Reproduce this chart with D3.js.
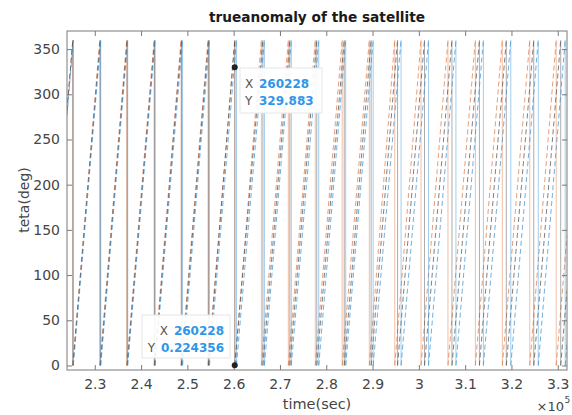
<!DOCTYPE html>
<html>
<head>
<meta charset="utf-8">
<script src="https://cdn.jsdelivr.net/npm/d3@7"></script>
<style>
  html, body { margin: 0; padding: 0; background: #fff; }
  svg { display: block; font-family: "DejaVu Sans", sans-serif; }
</style>
</head>
<body>
<svg id="chart" width="572" height="415"></svg>
<script>
// ---- data ----
const xTicks = [230000, 240000, 250000, 260000, 270000, 280000, 290000, 300000, 310000, 320000, 330000];
const xTickLabels = ["2.3", "2.4", "2.5", "2.6", "2.7", "2.8", "2.9", "3", "3.1", "3.2", "3.3"];
const yTicks = [0, 50, 100, 150, 200, 250, 300, 350];
const xDomain = [224000, 332000];
const yDomain = [-5, 370];

// times (s) at which each series wraps from 360 to 0 deg
const orangeDrops = [225260, 231080, 236900, 242820, 248640, 254460, 260280, 265990, 271810, 277630, 283440, 289300, 294800, 300470, 306290, 312210, 318030, 323960, 329670];
const grayDrops   = [225260, 231190, 237000, 242930, 248750, 254570, 260228, 266310, 272130, 277950, 283880, 289690, 295400, 301220, 307150, 313080, 318890, 324820, 330640];
const blueDrops   = [225370, 231290, 237110, 243040, 248960, 254780, 260600, 266640, 272450, 278380, 284200, 290130, 296160, 302090, 308010, 313940, 319860, 325790, 331610];
const startAngles = [282, 282, 277];   // deg at the left edge
const endAngles   = [144, 83, 24];     // deg at the right edge
const seriesNames = ["orange", "gray", "blue"];
const seriesColors = ["#e2703a", "#4a4a4a", "#2f8fd6"];

const tipX = [260228, 260228];
const tipY = [329.883, 0.224356];

// ---- layout ----
const svg = d3.select("#chart");
const L = 67, R = 567, T = 31, B = 370;
const x = d3.scaleLinear().domain(xDomain).range([L, R]);
const y = d3.scaleLinear().domain(yDomain).range([B, T]);

svg.append("defs").append("clipPath").attr("id", "clip")
  .append("rect").attr("x", L).attr("y", T).attr("width", R - L).attr("height", B - T);

const plot = svg.append("g").attr("clip-path", "url(#clip)");

const allDrops = [orangeDrops, grayDrops, blueDrops];
allDrops.forEach((drops, i) => {
  const ramps = [];
  ramps.push([[xDomain[0], startAngles[i]], [drops[0], 360]]);
  for (let k = 0; k < drops.length - 1; k++) ramps.push([[drops[k], 0], [drops[k + 1], 360]]);
  ramps.push([[drops[drops.length - 1], 0], [xDomain[1], endAngles[i]]]);
  const line = d3.line().x(d => x(d[0])).y(d => y(d[1]));
  const g = plot.append("g").attr("class", seriesNames[i]);
  g.selectAll("path.ramp").data(ramps).join("path")
    .attr("class", "ramp")
    .attr("d", line)
    .attr("fill", "none")
    .attr("stroke", seriesColors[i])
    .attr("stroke-width", 1)
    .attr("stroke-opacity", 0.7)
    .attr("stroke-dasharray", "5,3");
  g.selectAll("line.drop").data(drops).join("line")
    .attr("class", "drop")
    .attr("x1", d => x(d)).attr("x2", d => x(d))
    .attr("y1", y(360)).attr("y2", y(0))
    .attr("stroke", seriesColors[i])
    .attr("stroke-width", 1)
    .attr("stroke-opacity", 0.45);
});

// ---- axes box & ticks (MATLAB style, ticks inside) ----
const axisColor = "#7a7a7a";
const labelColor = "#454545";
svg.append("rect").attr("x", L).attr("y", T).attr("width", R - L).attr("height", B - T)
  .attr("fill", "none").attr("stroke", axisColor).attr("stroke-width", 1);

const xAxisB = d3.axisBottom(x).tickValues(xTicks).tickFormat((d, i) => xTickLabels[i]).tickSizeInner(-5).tickSizeOuter(0).tickPadding(9);
const gxb = svg.append("g").attr("transform", `translate(0,${B})`).call(xAxisB);
const xAxisT = d3.axisTop(x).tickValues(xTicks).tickFormat("").tickSizeInner(-5).tickSizeOuter(0);
const gxt = svg.append("g").attr("transform", `translate(0,${T})`).call(xAxisT);
const yAxisL = d3.axisLeft(y).tickValues(yTicks).tickSizeInner(-5).tickSizeOuter(0).tickPadding(7);
const gyl = svg.append("g").attr("transform", `translate(${L},0)`).call(yAxisL);
const yAxisR = d3.axisRight(y).tickValues(yTicks).tickFormat("").tickSizeInner(-5).tickSizeOuter(0);
const gyr = svg.append("g").attr("transform", `translate(${R},0)`).call(yAxisR);
[gxb, gxt, gyl, gyr].forEach(g => {
  g.select(".domain").remove();
  g.selectAll(".tick line").attr("stroke", axisColor);
  g.selectAll(".tick text").attr("fill", labelColor).attr("font-size", 14).attr("font-family", "DejaVu Sans, sans-serif");
});

// ---- titles ----
svg.append("text").attr("x", (L + R) / 2).attr("y", 22).attr("text-anchor", "middle")
  .attr("font-size", 13.7).attr("font-weight", "bold").attr("fill", "#1a1a1a")
  .text("trueanomaly of the satellite");
svg.append("text").attr("x", (L + R) / 2).attr("y", 409).attr("text-anchor", "middle")
  .attr("font-size", 14.5).attr("fill", labelColor).text("time(sec)");
svg.append("text").attr("transform", `translate(29,200) rotate(-90)`).attr("text-anchor", "middle")
  .attr("font-size", 14).attr("fill", labelColor).text("teta(deg)");
svg.append("text").attr("x", 564).attr("y", 411).attr("text-anchor", "end")
  .attr("font-size", 13).attr("fill", labelColor).text("×10");
svg.append("text").attr("x", 564.5).attr("y", 403).attr("font-size", 9).attr("fill", labelColor).text("5");

// ---- data tips ----
const tipBlue = "#2f96e8";
const tipGray = "#555";
// tip 1 (upper)
svg.append("rect").attr("x", 240).attr("y", 68).attr("width", 82).attr("height", 45)
  .attr("fill", "#fff").attr("fill-opacity", 0.92).attr("stroke", "#e6e6e6");
const t1 = svg.append("g").attr("font-size", 12);
t1.append("text").attr("x", 245).attr("y", 88).attr("fill", tipGray).text("X");
t1.append("text").attr("x", 259).attr("y", 88).attr("fill", tipBlue).attr("font-weight", "bold").text(String(tipX[0]));
t1.append("text").attr("x", 245).attr("y", 105).attr("fill", tipGray).text("Y");
t1.append("text").attr("x", 259).attr("y", 105).attr("fill", tipBlue).attr("font-weight", "bold").text(String(tipY[0]));
// tip 2 (lower)
svg.append("rect").attr("x", 142).attr("y", 315).attr("width", 88).attr("height", 43)
  .attr("fill", "#fff").attr("fill-opacity", 0.92).attr("stroke", "#e6e6e6");
const t2 = svg.append("g").attr("font-size", 12);
t2.append("text").attr("x", 224).attr("y", 335).attr("text-anchor", "end").attr("fill", tipBlue).attr("font-weight", "bold").text(String(tipX[1]));
t2.append("text").attr("x", 168).attr("y", 335).attr("text-anchor", "end").attr("fill", tipGray).text("X");
t2.append("text").attr("x", 224).attr("y", 352).attr("text-anchor", "end").attr("fill", tipBlue).attr("font-weight", "bold").text(String(tipY[1]));
t2.append("text").attr("x", 155).attr("y", 352).attr("text-anchor", "end").attr("fill", tipGray).text("Y");

svg.selectAll("circle.tip").data(tipX.map((d, i) => [d, tipY[i]])).join("circle")
  .attr("class", "tip")
  .attr("cx", d => x(d[0])).attr("cy", d => y(d[1])).attr("r", 3)
  .attr("fill", "#222");
</script>
</body>
</html>
